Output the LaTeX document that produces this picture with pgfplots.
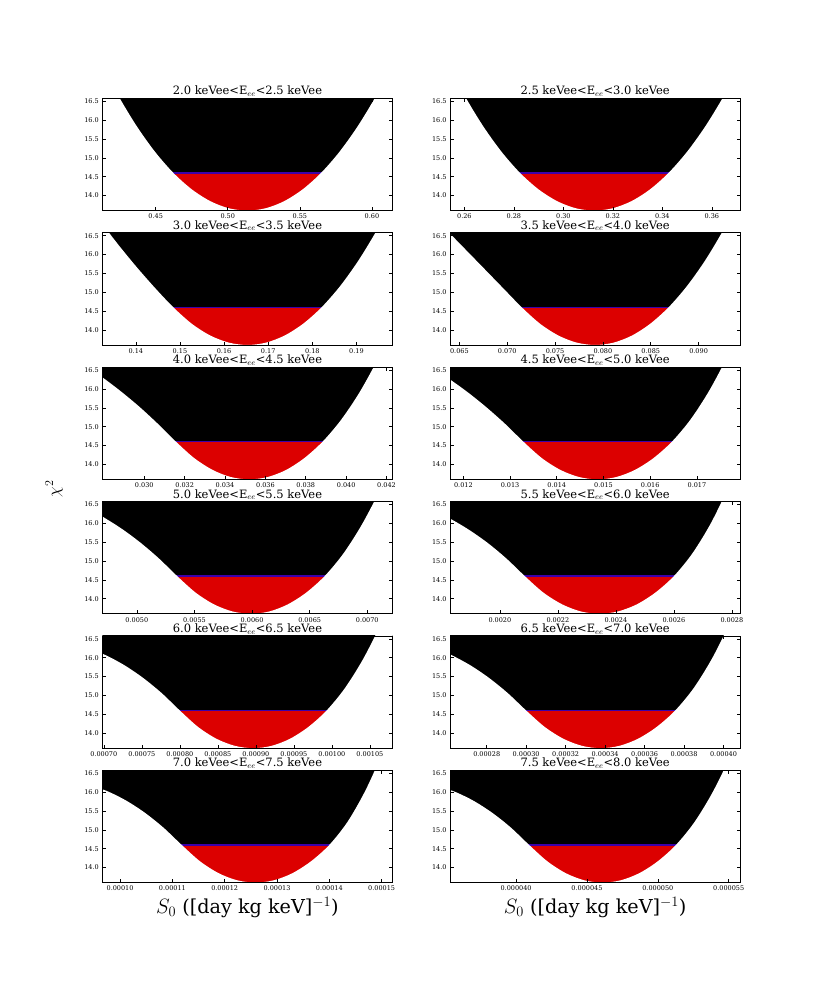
\documentclass[border=0pt]{standalone}
\usepackage{pgfplots}
\pgfplotsset{compat=1.18}
\usepackage{fontspec}
\setmainfont{DejaVu Serif}
\definecolor{chired}{RGB}{220,0,0}
\definecolor{lineblue}{RGB}{60,0,170}
\pgfplotsset{every axis title/.style={at={(0.5,1)}, anchor=base, yshift=3.5pt, inner sep=0pt, font=\fontsize{11.5}{13}\selectfont},
  panel/.style={scale only axis, width=290.3pt, height=112.3pt, anchor=north west,
  ymin=13.6, ymax=16.58, ytick={14,14.5,15,15.5,16,16.5}, yticklabels={14.0,14.5,15.0,15.5,16.0,16.5},
  axis on top, tick align=inside, major tick length=3.5pt, minor tick num=0,
  tick style={black, line width=0.6pt}, axis line style={line width=0.8pt},
  ticklabel style={font=\fontsize{6.5}{8}\selectfont}, scaled x ticks=false, scaled y ticks=false,
  xlabel style={font=\fontsize{19.2}{21}\selectfont, yshift=1pt}}}
\newcommand{\panel}[9]{%
\begin{axis}[panel, at={(#1pt,-#2pt)}, xmin=#3, xmax=#4, xtick={#5}, xticklabels={#6}, title={#7}, #9]
\addplot[fill=black, draw=none] coordinates {(#3,14.6) (#4,14.6) (#4,17) (#3,17)};
\addplot[fill=chired, draw=none] coordinates {(#3,13) (#4,13) (#4,14.6) (#3,14.6)};
\addplot[draw=lineblue, line width=1.3pt] coordinates {(#3,14.6) (#4,14.6)};
\addplot[fill=white, draw=none, smooth] coordinates {#8} \closedcycle;
\end{axis}}
\begin{document}
\begin{tikzpicture}
\path[use as bounding box] (0,0) rectangle (822pt,-981pt);
% Row 1
\panel{102.3}{98.3}{0.413}{0.6143}{0.45,0.50,0.55,0.60}{0.45,0.50,0.55,0.60}{2.0 keVee<E$_{ee}$<2.5 keVee}
{(0.4111,17.6)(0.4239,16.6625)(0.4367,15.85)(0.4495,15.1625)(0.4623,14.6)(0.4751,14.1625)(0.4879,13.85)(0.5007,13.6625)(0.5135,13.6)
(0.5263,13.6625)(0.5391,13.85)(0.5519,14.1625)(0.5647,14.6)(0.5775,15.1625)(0.5903,15.85)(0.6031,16.6625)(0.6159,17.6)}{}
\panel{450.0}{98.3}{0.2542}{0.3715}{0.26,0.28,0.30,0.32,0.34,0.36}{0.26,0.28,0.30,0.32,0.34,0.36}{2.5 keVee<E$_{ee}$<3.0 keVee}
{(0.2525,17.6)(0.26,16.6625)(0.2675,15.85)(0.275,15.1625)(0.2825,14.6)(0.29,14.1625)(0.2975,13.85)(0.305,13.6625)(0.3125,13.6)
(0.32,13.6625)(0.3275,13.85)(0.335,14.1625)(0.3425,14.6)(0.35,15.1625)(0.3575,15.85)(0.365,16.6625)(0.3725,17.6)}{}
% Row 2
\panel{102.3}{232.7}{0.1324}{0.1982}{0.14,0.15,0.16,0.17,0.18,0.19}{0.14,0.15,0.16,0.17,0.18,0.19}{3.0 keVee<E$_{ee}$<3.5 keVee}
{(0.1317,16.92)(0.1359,16.28)(0.1401,15.68)(0.1443,15.12)(0.1485,14.6)(0.1527,14.1625)(0.1569,13.85)(0.1611,13.6625)(0.1653,13.6)
(0.1695,13.6625)(0.1737,13.85)(0.1779,14.1625)(0.1821,14.6)(0.1863,15.1625)(0.1905,15.85)(0.1947,16.6625)(0.1989,17.6)}{}
\panel{450.0}{232.7}{0.06402}{0.09436}{0.065,0.070,0.075,0.080,0.085,0.090}{0.065,0.070,0.075,0.080,0.085,0.090}{3.5 keVee<E$_{ee}$<4.0 keVee}
{(0.06193,17.1)(0.06385,16.6)(0.06577,16.1)(0.06769,15.6)(0.0696,15.1)(0.07152,14.6)(0.07344,14.1625)(0.07536,13.85)(0.07727,13.6625)(0.07919,13.6)
(0.08111,13.6625)(0.08303,13.85)(0.08494,14.1625)(0.08686,14.6)(0.08878,15.1625)(0.0907,15.85)(0.09261,16.6625)(0.09453,17.6)}{}
% Row 3
\panel{102.3}{367.1}{0.02792}{0.0423}{0.030,0.032,0.034,0.036,0.038,0.040,0.042}{0.030,0.032,0.034,0.036,0.038,0.040,0.042}{4.0 keVee<E$_{ee}$<4.5 keVee}
{(0.02703,16.634)(0.02794,16.302)(0.02885,15.932)(0.02976,15.526)(0.03066,15.081)(0.03157,14.6)(0.03248,14.1625)(0.03339,13.85)(0.03429,13.6625)(0.0352,13.6)
(0.03611,13.6625)(0.03702,13.85)(0.03792,14.1625)(0.03883,14.6)(0.03974,15.175)(0.04065,15.9)(0.04155,16.775)(0.04246,17.8)}{}
\panel{450.0}{367.1}{0.011714}{0.017929}{0.012,0.013,0.014,0.015,0.016,0.017}{0.012,0.013,0.014,0.015,0.016,0.017}{4.5 keVee<E$_{ee}$<5.0 keVee}
{(0.0113,16.577)(0.011697,16.265)(0.012094,15.912)(0.012491,15.516)(0.012889,15.079)(0.013286,14.6)(0.013683,14.1625)(0.01408,13.85)(0.014478,13.6625)(0.014875,13.6)
(0.015272,13.6625)(0.01567,13.85)(0.016067,14.1625)(0.016464,14.6)(0.016861,15.186)(0.017259,15.945)(0.017656,16.876)(0.018053,17.98)}{}
% Row 4
\panel{102.3}{501.5}{0.0047}{0.00722}{0.0050,0.0055,0.0060,0.0065,0.0070}{0.0050,0.0055,0.0060,0.0065,0.0070}{5.0 keVee<E$_{ee}$<5.5 keVee}
{(0.00439,16.617)(0.00455,16.435)(0.00471,16.163)(0.00487,15.854)(0.00503,15.491)(0.00519,15.073)(0.00535,14.6)(0.00551,14.1625)(0.00567,13.85)(0.00583,13.6625)(0.00599,13.6)
(0.00615,13.6625)(0.00631,13.85)(0.00647,14.1625)(0.00663,14.6)(0.00679,15.1875)(0.00695,15.95)(0.00711,16.8875)(0.00727,18.0)}{}
\panel{450.0}{501.5}{0.001828}{0.002829}{0.0020,0.0022,0.0024,0.0026,0.0028}{0.0020,0.0022,0.0024,0.0026,0.0028}{5.5 keVee<E$_{ee}$<6.0 keVee}
{(0.0017,16.522)(0.001765,16.352)(0.001829,16.121)(0.001893,15.831)(0.001958,15.48)(0.002022,15.07)(0.002086,14.6)(0.00215,14.1625)(0.002215,13.85)(0.002279,13.6625)(0.002343,13.6)
(0.002407,13.6625)(0.002472,13.85)(0.002536,14.1625)(0.0026,14.6)(0.002664,15.206)(0.002729,16.025)(0.002793,17.056)(0.002857,18.3)}{}
% Row 5
\panel{102.3}{635.9}{0.000698}{0.00107983}{0.00070,0.00075,0.00080,0.00085,0.00090,0.00095,0.00100,0.00105}{0.00070,0.00075,0.00080,0.00085,0.00090,0.00095,0.00100,0.00105}{6.0 keVee<E$_{ee}$<6.5 keVee}
{(0.0006794,16.255)(0.0007035,16.059)(0.0007276,15.796)(0.0007517,15.465)(0.0007759,15.066)(0.0008,14.6)(0.0008241,14.1625)(0.0008482,13.85)(0.0008724,13.6625)(0.0008965,13.6)
(0.0009206,13.6625)(0.0009448,13.85)(0.0009689,14.1625)(0.000993,14.6)(0.0010171,15.194)(0.0010413,15.975)(0.0010654,16.944)(0.0010895,18.1)}{}
\panel{450.0}{635.9}{0.0002614}{0.0004085}{0.00028,0.00030,0.00032,0.00034,0.00036,0.00038,0.00040}{0.00028,0.00030,0.00032,0.00034,0.00036,0.00038,0.00040}{6.5 keVee<E$_{ee}$<7.0 keVee}
{(0.00025281,16.297)(0.00026225,16.069)(0.00027169,15.801)(0.00028113,15.467)(0.00029056,15.067)(0.0003,14.6)(0.00030944,14.1625)(0.00031888,13.85)(0.00032831,13.6625)(0.00033775,13.6)
(0.00034719,13.6625)(0.00035663,13.85)(0.00036606,14.1625)(0.0003755,14.6)(0.00038494,15.2)(0.00039438,16.0)(0.00040381,17.0)(0.00041325,18.2)}{}
% Row 6
\panel{102.3}{770.3}{9.66e-5}{1.521e-4}{1e-4,1.1e-4,1.2e-4,1.3e-4,1.4e-4,1.5e-4}{0.00010,0.00011,0.00012,0.00013,0.00014,0.00015}{7.0 keVee<E$_{ee}$<7.5 keVee}
{(9.414e-5,16.194)(9.767e-5,16.02)(1.012e-4,15.774)(1.0473e-4,15.455)(1.0825e-4,15.064)(1.1178e-4,14.6)(1.1531e-4,14.1625)(1.1884e-4,13.85)(1.2236e-4,13.6625)(1.2589e-4,13.6)
(1.2942e-4,13.6625)(1.3295e-4,13.85)(1.3647e-4,14.1625)(1.4e-4,14.6)(1.4353e-4,15.222)(1.4706e-4,16.088)(1.5058e-4,17.197)(1.5411e-4,18.55)}
{xlabel={$S_0$ ([day kg keV]$^{-1}$)}}
\panel{450.0}{770.3}{3.534e-5}{5.582e-5}{4e-5,4.5e-5,5e-5,5.5e-5}{0.000040,0.000045,0.000050,0.000055}{7.5 keVee<E$_{ee}$<8.0 keVee}
{(3.4445e-5,16.166)(3.574e-5,16.002)(3.7035e-5,15.764)(3.833e-5,15.45)(3.9625e-5,15.063)(4.092e-5,14.6)(4.2215e-5,14.1625)(4.351e-5,13.85)(4.4805e-5,13.6625)(4.61e-5,13.6)
(4.7395e-5,13.6625)(4.869e-5,13.85)(4.9985e-5,14.1625)(5.128e-5,14.6)(5.2575e-5,15.2)(5.387e-5,16.0)(5.5165e-5,17.0)(5.646e-5,18.2)}
{xlabel={$S_0$ ([day kg keV]$^{-1}$)}}
\node[rotate=90, font=\fontsize{17}{19}\selectfont] at (54pt,-489pt) {$\chi^2$};
\end{tikzpicture}
\end{document}
